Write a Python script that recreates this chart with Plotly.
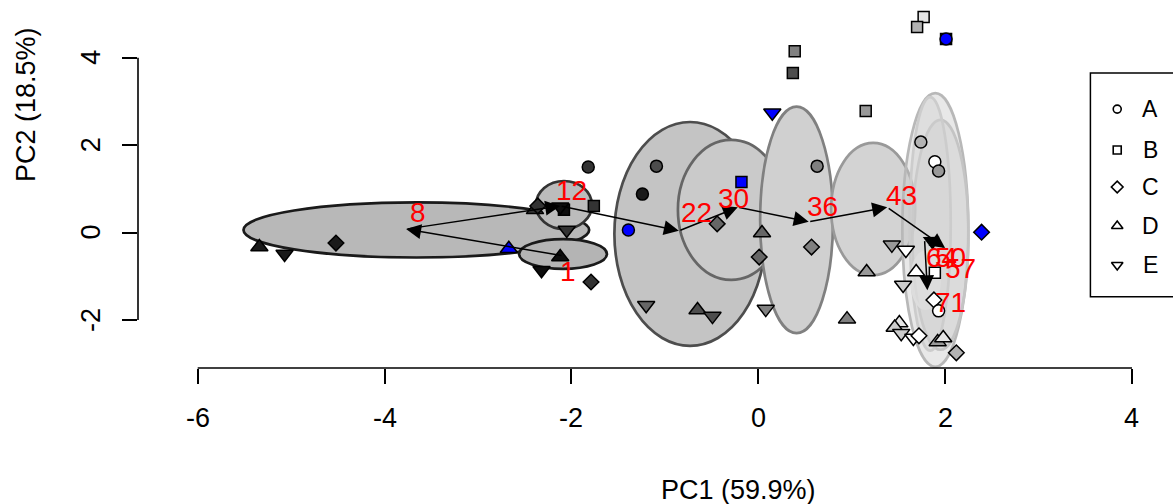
import plotly.graph_objects as go

# ---------------- data ----------------
grp = ["D", "E", "C", "D", "D", "C", "B", "E", "B", "E", "D", "E", "C", "A", "A", "A",
       "A", "B", "C", "B", "B", "E", "A", "B", "D", "C", "E", "D", "E", "E", "C", "D",
       "D", "E", "E", "A", "A", "A", "C", "D", "B", "E", "C", "A", "D", "D", "E", "E",
       "C", "D", "D", "C", "B", "B", "B", "A"]
day = [8, 8, 8, 8, 12, 12, 1, 1, 12, 12, 1, 1, 12, 12, 22, 8,
       8, 30, 30, 36, 22, 36, 36, 43, 30, 30, 30, 22, 22, 36, 36, 36,
       43, 43, 71, 50, 71, 43, 43, 71, 71, 57, 71, 71, 64, 57, 57, 71,
       71, 43, 64, 50, 64, 50, 8, 71]
flag = [0, 0, 0, 1, 0, 0, 0, 0, 0, 0, 0, 0, 0, 0, 0, 0,
        1, 1, 0, 0, 0, 1, 0, 0, 0, 0, 0, 0, 0, 0, 0, 0,
        0, 0, 0, 0, 0, 0, 1, 0, 0, 0, 0, 0, 0, 0, 0, 0,
        0, 0, 0, 0, 0, 0, 0, 1]
pc1 = [-5.34, -5.07, -4.52, -2.67, -2.39, -2.36, -2.08, -2.12, -1.76, -2.05, -2.12, -2.32, -1.79, -1.82, -1.09, -1.24,
       -1.39, -0.18, -0.44, 0.39, 0.37, 0.15, 0.63, 1.15, 0.04, 0.01, -1.20, -0.65, -0.49, 0.08, 0.57, 0.95,
       1.16, 1.43, 1.58, 1.74, 1.89, 1.93, 2.39, 1.69, 1.89, 1.55, 1.88, 1.93, 1.51, 1.46, 1.53, 1.66,
       1.72, 1.92, 1.98, 2.12, 1.77, 1.70, 2.01, 2.01]
pc2 = [-0.33, -0.49, -0.24, -0.37, 0.52, 0.61, 0.52, 0.59, 0.61, 0.06, -0.56, -0.86, -1.13, 1.50, 1.52, 0.88,
       0.06, 1.16, 0.20, 4.15, 3.65, 2.74, 1.52, 2.78, -0.01, -0.56, -1.66, -1.77, -1.91, -1.75, -0.33, -1.98,
       -0.90, -0.28, -0.40, 2.07, 1.62, 1.41, 0.01, -0.90, -0.92, -1.20, -1.54, -1.79, -2.07, -2.17, -2.30, -2.41,
       -2.36, -2.50, -2.41, -2.75, 4.93, 4.70, 4.43, 4.43]

# confidence ellipses per sampling day (centre, half widths)
ell_day = [8, 1, 12, 22, 30, 36, 43, 50, 57, 64, 71]
ell_cx = [-3.66, -2.09, -2.08, -0.73, -0.29, 0.41, 1.23, 1.895, 1.95, 1.84, 1.79]
ell_cy = [0.06, -0.49, 0.63, -0.03, 0.52, 0.29, 0.54, 0.06, -0.05, 0.20, -1.09]
ell_rx = [1.85, 0.47, 0.30, 0.81, 0.57, 0.39, 0.45, 0.353, 0.30, 0.22, 0.15]
ell_ry = [0.63, 0.34, 0.55, 2.56, 1.60, 2.59, 1.51, 3.13, 2.63, 2.90, 0.65]

# trajectory of group centroids
traj_day = [1, 8, 12, 22, 30, 36, 43, 50, 57, 64, 71]
traj_x = [-2.09, -3.77, -2.12, -0.85, -0.22, 0.54, 1.38, 2.00, 1.76, 1.78, 1.81]
traj_y = [-0.53, 0.08, 0.61, 0.04, 0.58, 0.25, 0.58, -0.35, -0.10, -0.16, -1.32]
lab_x = [-2.04, -3.64, -2.00, -0.66, -0.27, 0.69, 1.53, 2.06, 2.16, 1.96, 2.06]
lab_y = [-0.90, 0.45, 0.97, 0.45, 0.79, 0.59, 0.84, -0.58, -0.81, -0.58, -1.61]

x_ticks = [-6, -4, -2, 0, 2, 4]
y_ticks = [-2, 0, 2, 4]
legend_labels = ["A", "B", "C", "D", "E"]
x_title = "PC1 (59.9%)"
y_title = "PC2 (18.5%)"

# ---------------- styles ----------------
FONT = "Liberation Sans, Arial, Helvetica, sans-serif"
FS = 27
XR = [-6.639, 4.439]
YR = [-3.097, 5.320]
day_gray = {1: "#0d0d0d", 8: "#1a1a1a", 12: "#333333", 22: "#4d4d4d", 30: "#666666",
            36: "#808080", 43: "#999999", 50: "#b3b3b3", 57: "#cccccc", 64: "#e6e6e6", 71: "#ffffff"}
sym = {"A": "circle", "B": "square", "C": "diamond", "D": "triangle-up", "E": "triangle-down"}
sym_size = {"A": 12, "B": 11, "C": 12, "D": 15, "E": 15}
ell_fill = {8: "rgba(184,184,184,1)", 1: "rgba(180,180,180,1)", 12: "rgba(188,188,188,1)",
            22: "rgba(196,196,196,1)", 30: "rgba(202,202,202,1)", 36: "rgba(208,208,208,1)",
            43: "rgba(211,211,211,1)", 50: "rgba(205,205,205,0.45)", 57: "rgba(205,205,205,0.45)",
            64: "rgba(210,210,210,0.45)", 71: "rgba(225,225,225,0.6)"}
ell_line = {8: "#1a1a1a", 1: "#1a1a1a", 12: "#333333", 22: "#4d4d4d", 30: "#666666",
            36: "#808080", 43: "#999999", 50: "#b8b8b8", 57: "#c4c4c4", 64: "#cccccc", 71: "#dddddd"}

fig = go.Figure()

shapes = []
for d, cx, cy, rx, ry in zip(ell_day, ell_cx, ell_cy, ell_rx, ell_ry):
    shapes.append(dict(type="circle", xref="x", yref="y", x0=cx - rx, x1=cx + rx,
                       y0=cy - ry, y1=cy + ry, fillcolor=ell_fill[d],
                       line=dict(color=ell_line[d], width=2.7), layer="below"))

# points: normal first, flagged (blue) on top
order = [i for i in range(len(pc1)) if not flag[i]] + [i for i in range(len(pc1)) if flag[i]]
fig.add_trace(go.Scatter(
    x=[pc1[i] for i in order], y=[pc2[i] for i in order], mode="markers",
    marker=dict(symbol=[sym[grp[i]] for i in order],
                size=[sym_size[grp[i]] for i in order],
                color=["#0000ff" if flag[i] else day_gray[day[i]] for i in order],
                opacity=1,
                line=dict(color="#000000", width=1.5)),
    showlegend=False, hoverinfo="skip"))

annotations = []
# arrows between consecutive centroids
for k in range(1, len(traj_x)):
    annotations.append(dict(x=traj_x[k], y=traj_y[k], ax=traj_x[k - 1], ay=traj_y[k - 1],
                            xref="x", yref="y", axref="x", ayref="y", text="",
                            showarrow=True, arrowhead=2, arrowsize=2, arrowwidth=1.5,
                            arrowcolor="#000000", standoff=0, startstandoff=0))
# day labels
for d, lx, ly in zip(traj_day, lab_x, lab_y):
    annotations.append(dict(x=lx, y=ly, xref="x", yref="y", text=str(d), showarrow=False,
                            font=dict(family=FONT, size=FS + 1, color="#ff0000"),
                            xanchor="center", yanchor="middle"))

# axes (R style, line only over tick span)
def xpaper(v):
    return (v - XR[0]) / (XR[1] - XR[0])

def ypaper(v):
    return (v - YR[0]) / (YR[1] - YR[0])

shapes.append(dict(type="line", xref="paper", yref="paper", x0=xpaper(x_ticks[0]), x1=xpaper(x_ticks[-1]),
                   y0=0, y1=0, line=dict(color="black", width=1.6)))
shapes.append(dict(type="line", xref="paper", yref="paper", x0=0, x1=0,
                   y0=ypaper(y_ticks[0]), y1=ypaper(y_ticks[-1]), line=dict(color="black", width=1.6)))
for v in x_ticks:
    annotations.append(dict(x=v, y=0, xref="x", yref="paper", yshift=-50, text=str(v),
                            showarrow=False, xanchor="center", yanchor="middle",
                            font=dict(family=FONT, size=FS, color="black")))
for v in y_ticks:
    annotations.append(dict(x=0, y=v, xref="paper", yref="y", xshift=-47, text=str(v),
                            showarrow=False, xanchor="center", yanchor="middle", textangle=-90,
                            font=dict(family=FONT, size=FS, color="black")))
annotations.append(dict(x=(738 - 138) / 1035, y=0, xref="paper", yref="paper", yshift=-122,
                        text=x_title, showarrow=False, xanchor="center", yanchor="middle",
                        font=dict(family=FONT, size=FS, color="black")))
annotations.append(dict(x=(26 - 138) / 1035, y=(368 - 105) / 368, xref="paper", yref="paper",
                        text=y_title, showarrow=False, xanchor="center", yanchor="middle",
                        textangle=-90, font=dict(family=FONT, size=FS, color="black")))

# legend box (drawn beneath the legend symbols)
shapes.append(dict(type="rect", xref="x", yref="y", x0=3.555, x1=4.9, y0=-1.47, y1=3.65,
                   fillcolor="white", line=dict(color="black", width=1.5), layer="below"))
leg_y = [2.825, 1.889, 1.043, 0.151, -0.741]
fig.add_trace(go.Scatter(
    x=[3.842] * 5, y=leg_y, mode="markers",
    marker=dict(symbol=[sym[g] + "-open" for g in legend_labels], size=[8, 8, 9, 10, 10],
                color="black", opacity=1, line=dict(width=1.6, color="black")),
    showlegend=False, hoverinfo="skip"))
for g, yy in zip(legend_labels, leg_y):
    annotations.append(dict(x=4.195, y=yy, xref="x", yref="y", text=g, showarrow=False,
                            xanchor="center", yanchor="middle",
                            font=dict(family=FONT, size=23, color="black")))

fig.update_layout(
    width=1173, height=504,
    margin=dict(l=138, r=0, t=0, b=136, autoexpand=False),
    paper_bgcolor="white", plot_bgcolor="white",
    xaxis=dict(range=XR, tickvals=x_ticks, ticks="outside", ticklen=15, tickwidth=1.6,
               tickcolor="black", showticklabels=False, showgrid=False, zeroline=False,
               showline=False),
    yaxis=dict(range=YR, tickvals=y_ticks, ticks="outside", ticklen=15, tickwidth=1.6,
               tickcolor="black", showticklabels=False, showgrid=False, zeroline=False,
               showline=False),
    shapes=shapes, annotations=annotations, showlegend=False,
)

fig.write_html("out.html", config={"displayModeBar": False},
               post_script="document.body.style.margin='0px';document.body.style.overflow='hidden';")
